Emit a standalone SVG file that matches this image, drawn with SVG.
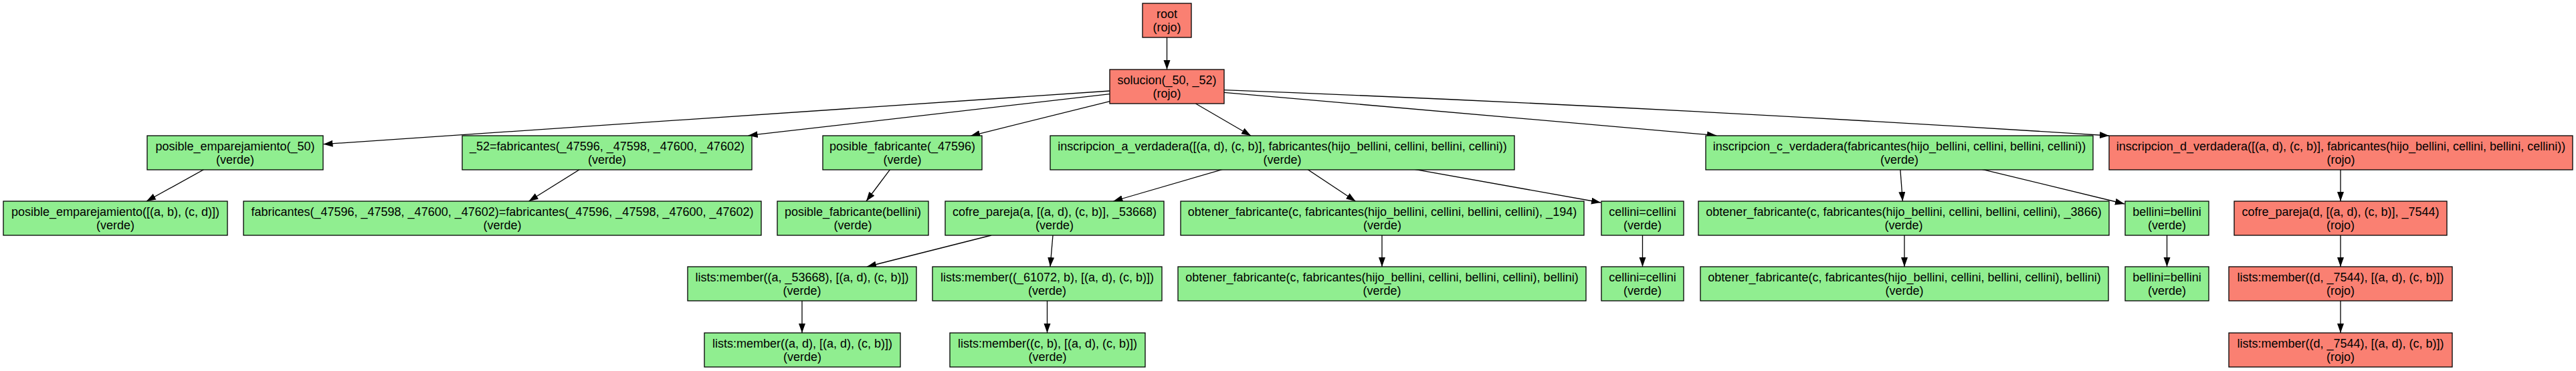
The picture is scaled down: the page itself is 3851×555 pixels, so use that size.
<svg xmlns="http://www.w3.org/2000/svg" width="3851" height="555" viewBox="0 0 3851 555">
<defs>
<style>
.n rect{stroke:#000;stroke-width:1.3}
.g rect{fill:#90EE90}
.r rect{fill:#FA8072}
.n text{font-family:"Liberation Sans",Arial,sans-serif;font-size:18px;text-anchor:middle;fill:#000}
.e path{stroke:#000;stroke-width:1.3;fill:none;marker-end:url(#ah)}
</style>
<marker id="ah" markerUnits="userSpaceOnUse" markerWidth="15" markerHeight="11" viewBox="0 0 15 11" refX="14" refY="5" orient="auto"><path d="M0,0 L14,5 L0,10 z" fill="#000"/></marker>
</defs>
<rect width="3851" height="555" fill="#fff"/>
<g id="edges" class="e">
<path d="M1744.5,56 L1744.5,104"/>
<path d="M1659,136 L483.5,215.7"/>
<path d="M1659,140.7 L1118.7,202.7"/>
<path d="M1659,151.7 L1451,203.3"/>
<path d="M1787.5,155 L1870,203"/>
<path d="M1830,138.3 L2566,202.7"/>
<path d="M1830,134.7 Q2450,158 3153,203"/>
<path d="M305.8,253 L219,301"/>
<path d="M867.4,253 L790.6,301"/>
<path d="M1331,253 L1295,301"/>
<path d="M1829.3,253 L1664.4,301"/>
<path d="M1954.1,253 L2026.4,301"/>
<path d="M2113,253 L2393,303"/>
<path d="M2840.8,253 L2844.4,301"/>
<path d="M2961.7,253 L3176,305"/>
<path d="M3499,253 L3499,301"/>
<path d="M1482,352 L1296,399"/>
<path d="M1574,352 L1570,399"/>
<path d="M2066,352 L2066,399"/>
<path d="M2455.5,352 L2455.5,399"/>
<path d="M2847,352 L2847,399"/>
<path d="M3239.5,352 L3239.5,399"/>
<path d="M3499,352 L3499,399"/>
<path d="M1199,450 L1199,498"/>
<path d="M1565.5,450 L1565.5,498"/>
<path d="M3499,450 L3499,498"/>
</g>
<g id="root" class="n r"><rect x="1708" y="5" width="73" height="51"/><text x="1744.5" y="26.5">root</text><text x="1744.5" y="46.5">(rojo)</text></g>
<g id="solucion" class="n r"><rect x="1659" y="104" width="171" height="51"/><text x="1744.5" y="125.5">solucion(_50, _52)</text><text x="1744.5" y="145.5">(rojo)</text></g>
<g id="pe50" class="n g"><rect x="220" y="203" width="263" height="51"/><text x="351.5" y="224.5">posible_emparejamiento(_50)</text><text x="351.5" y="244.5">(verde)</text></g>
<g id="f52" class="n g"><rect x="691" y="203" width="433" height="51"/><text x="907.5" y="224.5">_52=fabricantes(_47596, _47598, _47600, _47602)</text><text x="907.5" y="244.5">(verde)</text></g>
<g id="pf" class="n g"><rect x="1230" y="203" width="238" height="51"/><text x="1349" y="224.5">posible_fabricante(_47596)</text><text x="1349" y="244.5">(verde)</text></g>
<g id="ia" class="n g"><rect x="1570" y="203" width="694" height="51"/><text x="1917" y="224.5">inscripcion_a_verdadera([(a, d), (c, b)], fabricantes(hijo_bellini, cellini, bellini, cellini))</text><text x="1917" y="244.5">(verde)</text></g>
<g id="ic" class="n g"><rect x="2550" y="203" width="579" height="51"/><text x="2839.5" y="224.5">inscripcion_c_verdadera(fabricantes(hijo_bellini, cellini, bellini, cellini))</text><text x="2839.5" y="244.5">(verde)</text></g>
<g id="id" class="n r"><rect x="3153" y="203" width="693" height="51"/><text x="3499.5" y="224.5">inscripcion_d_verdadera([(a, d), (c, b)], fabricantes(hijo_bellini, cellini, bellini, cellini))</text><text x="3499.5" y="244.5">(rojo)</text></g>
<g id="pe2" class="n g"><rect x="5" y="301" width="335" height="51"/><text x="172.5" y="322.5">posible_emparejamiento([(a, b), (c, d)])</text><text x="172.5" y="342.5">(verde)</text></g>
<g id="fab" class="n g"><rect x="364" y="301" width="774" height="51"/><text x="751" y="322.5">fabricantes(_47596, _47598, _47600, _47602)=fabricantes(_47596, _47598, _47600, _47602)</text><text x="751" y="342.5">(verde)</text></g>
<g id="pfb" class="n g"><rect x="1162" y="301" width="226" height="51"/><text x="1275" y="322.5">posible_fabricante(bellini)</text><text x="1275" y="342.5">(verde)</text></g>
<g id="cpa" class="n g"><rect x="1413" y="301" width="327" height="51"/><text x="1576.5" y="322.5">cofre_pareja(a, [(a, d), (c, b)], _53668)</text><text x="1576.5" y="342.5">(verde)</text></g>
<g id="of194" class="n g"><rect x="1765" y="301" width="603" height="51"/><text x="2066.5" y="322.5">obtener_fabricante(c, fabricantes(hijo_bellini, cellini, bellini, cellini), _194)</text><text x="2066.5" y="342.5">(verde)</text></g>
<g id="cc1" class="n g"><rect x="2394" y="301" width="123" height="51"/><text x="2455.5" y="322.5">cellini=cellini</text><text x="2455.5" y="342.5">(verde)</text></g>
<g id="of3866" class="n g"><rect x="2539" y="301" width="614" height="51"/><text x="2846" y="322.5">obtener_fabricante(c, fabricantes(hijo_bellini, cellini, bellini, cellini), _3866)</text><text x="2846" y="342.5">(verde)</text></g>
<g id="bb1" class="n g"><rect x="3177" y="301" width="125" height="51"/><text x="3239.5" y="322.5">bellini=bellini</text><text x="3239.5" y="342.5">(verde)</text></g>
<g id="cpd" class="n r"><rect x="3340" y="301" width="318" height="51"/><text x="3499" y="322.5">cofre_pareja(d, [(a, d), (c, b)], _7544)</text><text x="3499" y="342.5">(rojo)</text></g>
<g id="lm1" class="n g"><rect x="1028" y="399" width="342" height="51"/><text x="1199" y="420.5">lists:member((a, _53668), [(a, d), (c, b)])</text><text x="1199" y="440.5">(verde)</text></g>
<g id="lm2" class="n g"><rect x="1394" y="399" width="343" height="51"/><text x="1565.5" y="420.5">lists:member((_61072, b), [(a, d), (c, b)])</text><text x="1565.5" y="440.5">(verde)</text></g>
<g id="ofb1" class="n g"><rect x="1761" y="399" width="610" height="51"/><text x="2066" y="420.5">obtener_fabricante(c, fabricantes(hijo_bellini, cellini, bellini, cellini), bellini)</text><text x="2066" y="440.5">(verde)</text></g>
<g id="cc2" class="n g"><rect x="2394" y="399" width="123" height="51"/><text x="2455.5" y="420.5">cellini=cellini</text><text x="2455.5" y="440.5">(verde)</text></g>
<g id="ofb2" class="n g"><rect x="2542" y="399" width="610" height="51"/><text x="2847" y="420.5">obtener_fabricante(c, fabricantes(hijo_bellini, cellini, bellini, cellini), bellini)</text><text x="2847" y="440.5">(verde)</text></g>
<g id="bb2" class="n g"><rect x="3177" y="399" width="125" height="51"/><text x="3239.5" y="420.5">bellini=bellini</text><text x="3239.5" y="440.5">(verde)</text></g>
<g id="lmd1" class="n r"><rect x="3332" y="399" width="334" height="51"/><text x="3499" y="420.5">lists:member((d, _7544), [(a, d), (c, b)])</text><text x="3499" y="440.5">(rojo)</text></g>
<g id="lm3" class="n g"><rect x="1053" y="498" width="293" height="51"/><text x="1199.5" y="519.5">lists:member((a, d), [(a, d), (c, b)])</text><text x="1199.5" y="539.5">(verde)</text></g>
<g id="lm4" class="n g"><rect x="1420" y="498" width="292" height="51"/><text x="1566" y="519.5">lists:member((c, b), [(a, d), (c, b)])</text><text x="1566" y="539.5">(verde)</text></g>
<g id="lmd2" class="n r"><rect x="3332" y="498" width="334" height="51"/><text x="3499" y="519.5">lists:member((d, _7544), [(a, d), (c, b)])</text><text x="3499" y="539.5">(rojo)</text></g>
</svg>
